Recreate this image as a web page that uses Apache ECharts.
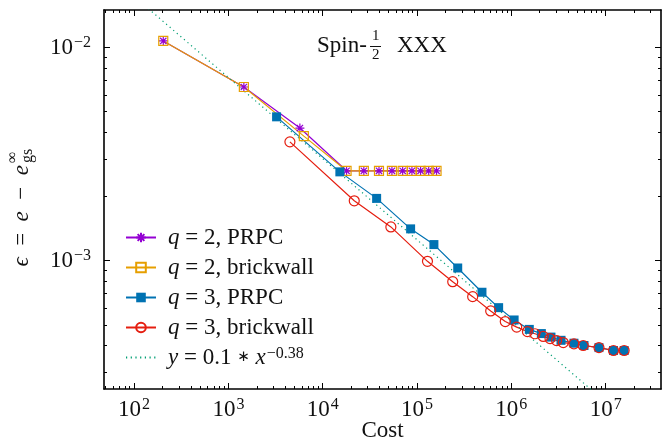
<!DOCTYPE html>
<html>
<head>
<meta charset="utf-8">
<script src="https://cdn.jsdelivr.net/npm/echarts@6/dist/echarts.min.js"></script>
<style>
  html, body { margin: 0; padding: 0; background: #fff; }
  #main { width: 670px; height: 443px; }
</style>
</head>
<body>
<div id="main"></div>
<script>
// data (cost, error)
var q2prpcX = [204, 1459, 5730, 1.79e4, 2.73e4, 3.95e4, 5.42e4, 7.04e4, 8.83e4, 1.09e5, 1.33e5, 1.61e5];
var q2prpcY = [0.01074, 6.53e-3, 4.19e-3, 2.64e-3, 2.64e-3, 2.64e-3, 2.64e-3, 2.64e-3, 2.64e-3, 2.64e-3, 2.64e-3, 2.64e-3];
var q2brickX = [204, 1459, 6310, 1.79e4, 2.73e4, 3.95e4, 5.42e4, 7.04e4, 8.83e4, 1.09e5, 1.33e5, 1.61e5];
var q2brickY = [0.01074, 6.53e-3, 3.84e-3, 2.64e-3, 2.64e-3, 2.64e-3, 2.64e-3, 2.64e-3, 2.64e-3, 2.64e-3, 2.64e-3, 2.64e-3];
var q3prpcX = [3243, 1.52e4, 3.73e4, 8.55e4, 1.51e5, 2.70e5, 4.88e5, 7.33e5, 1.07e6, 1.55e6, 2.08e6, 2.63e6, 3.36e6, 4.61e6, 5.89e6, 8.49e6, 1.21e7, 1.57e7];
var q3prpcY = [4.73e-3, 2.61e-3, 1.96e-3, 1.41e-3, 1.19e-3, 9.24e-4, 7.11e-4, 6.02e-4, 5.27e-4, 4.76e-4, 4.55e-4, 4.38e-4, 4.23e-4, 4.10e-4, 4.00e-4, 3.91e-4, 3.79e-4, 3.79e-4];
var q3brickX = [4490, 2.16e4, 5.28e4, 1.29e5, 2.39e5, 3.89e5, 6.04e5, 8.62e5, 1.14e6, 1.48e6, 1.78e6, 2.18e6, 2.57e6, 3.02e6, 3.55e6, 4.61e6, 5.78e6, 8.49e6, 1.21e7, 1.57e7];
var q3brickY = [3.61e-3, 1.91e-3, 1.44e-3, 9.93e-4, 7.97e-4, 6.78e-4, 5.81e-4, 5.18e-4, 4.88e-4, 4.65e-4, 4.54e-4, 4.41e-4, 4.31e-4, 4.22e-4, 4.13e-4, 4.07e-4, 4.00e-4, 3.91e-4, 3.79e-4, 3.79e-4];
// fit y = 0.1 * x^-0.38, two end points of the straight line
var fitX = [100, 1e7];
var fitY = [0.01738, 0.000217];

var seriesNames = ['{i|q} = 2, PRPC', '{i|q} = 2, brickwall', '{i|q} = 3, PRPC', '{i|q} = 3, brickwall', '{i|y} = 0.1 {a|∗} {i|x}{s|−0.38}'];

// ticks
var xMajor = [1e2, 1e3, 1e4, 1e5, 1e6, 1e7];
var yMajor = [1e-3, 1e-2];
var mant = [2, 3, 4, 5, 6, 7, 8, 9];
var xMin = 48, xMax = 3.86e7, yMin = 2.5e-4, yMax = 0.015;

function minors(decades, lo, hi) {
    var out = [];
    decades.forEach(function (d) {
        mant.forEach(function (m) {
            var v = m * d;
            if (v > lo && v < hi) out.push(v);
        });
    });
    return out;
}
var xMinor = minors([1e1, 1e2, 1e3, 1e4, 1e5, 1e6, 1e7], xMin, xMax);
var yMinor = minors([1e-4, 1e-3, 1e-2], yMin, yMax);

function zip(xs, ys) {
    return xs.map(function (x, i) { return [x, ys[i]]; });
}

var serif = 'Liberation Serif';
var supText = { fontSize: 16, fontFamily: serif, color: '#111', verticalAlign: 'top', padding: [0, 0, 10, 1] };

function powLabel(v) {
    var e = Math.round(Math.log10(v));
    return '10{s|' + String(e).replace('-', '−') + '}';
}

function makeX(pos, major, withLabel) {
    return {
        type: 'log', position: pos, min: xMin, max: xMax,
        name: withLabel ? 'Cost' : '', nameLocation: 'middle', nameGap: 30, nameMoveOverlap: false,
        nameTextStyle: { fontFamily: serif, fontSize: 23, color: '#111', verticalAlign: 'top' },
        axisLine: { show: major, onZero: false, lineStyle: { color: '#000', width: 1.6 } },
        axisTick: { show: true, inside: true, length: major ? 6 : 3, customValues: major ? xMajor : xMinor,
            lineStyle: { color: '#000', width: 1 } },
        axisLabel: withLabel ? {
            show: true, customValues: xMajor, formatter: powLabel, margin: 8,
            fontFamily: serif, fontSize: 23, color: '#111',
            rich: { s: supText }
        } : { show: false },
        splitLine: { show: false },
        minorTick: { show: false }
    };
}
function makeY(pos, major, withLabel) {
    return {
        type: 'log', position: pos, min: yMin, max: yMax,
        axisLine: { show: major, onZero: false, lineStyle: { color: '#000', width: 1.6 } },
        axisTick: { show: true, inside: true, length: major ? 6 : 3, customValues: major ? yMajor : yMinor,
            lineStyle: { color: '#000', width: 1 } },
        axisLabel: withLabel ? {
            show: true, customValues: yMajor, formatter: powLabel, margin: 13,
            fontFamily: serif, fontSize: 23, color: '#111',
            rich: { s: supText }
        } : { show: false },
        splitLine: { show: false },
        minorTick: { show: false }
    };
}

var legendItems = seriesNames.map(function (n, i) {
    if (i === 4) {
        return { name: n, itemStyle: { color: 'rgba(0,0,0,0)', borderColor: 'rgba(0,0,0,0)', borderWidth: 0 } };
    }
    return { name: n };
});

var myChart = echarts.init(document.getElementById('main'));
var option = {
    animation: false,
    backgroundColor: '#fff',
    grid: { left: 104, right: 9, top: 10, bottom: 54, containLabel: false, outerBoundsMode: 'none' },
    xAxis: [
        makeX('bottom', true, true),
        makeX('bottom', false, false),
        makeX('top', true, false),
        makeX('top', false, false)
    ],
    yAxis: [
        makeY('left', true, true),
        makeY('left', false, false),
        makeY('right', true, false),
        makeY('right', false, false)
    ],
    legend: {
        orient: 'vertical', left: 125, top: 226, padding: 0, itemWidth: 30, itemHeight: 12, itemGap: 7,
        data: legendItems,
        textStyle: {
            fontFamily: serif, fontSize: 23, color: '#111', lineHeight: 23, padding: [0, 0, 0, 7],
            rich: {
                i: { fontFamily: serif, fontStyle: 'italic', fontSize: 23, color: '#111' },
                a: { fontFamily: 'DejaVu Sans', fontSize: 15, color: '#111' },
                s: { fontFamily: serif, fontSize: 16, color: '#111', verticalAlign: 'top', padding: [0, 0, 10, 1] }
            }
        }
    },
    graphic: [
        {
            type: 'group', x: 317, y: 32,
            children: [
                { type: 'text', x: 0, y: 2, style: { text: 'Spin-', fontFamily: serif, fontSize: 23, fill: '#111' } },
                { type: 'text', x: 55, y: -3, style: { text: '1', fontFamily: serif, fontSize: 15, fill: '#111' } },
                { type: 'line', shape: { x1: 53, y1: 14.5, x2: 64, y2: 14.5 }, style: { stroke: '#111', lineWidth: 1 } },
                { type: 'text', x: 55, y: 16, style: { text: '2', fontFamily: serif, fontSize: 15, fill: '#111' } },
                { type: 'text', x: 80, y: 2, style: { text: 'XXX', fontFamily: serif, fontSize: 23, fill: '#111' } }
            ]
        },
        {
            type: 'group', x: 22, y: 203, rotation: Math.PI / 2,
            children: [
                { type: 'text', x: 38, y: 0, style: {
                    text: '{i|ϵ}\u2002=\u2002{i|e}\u2002−\u2002{i|e}', align: 'right', verticalAlign: 'middle',
                    fontFamily: serif, fontSize: 23, fill: '#111',
                    rich: { i: { fontFamily: serif, fontStyle: 'italic', fontSize: 23 } }
                } },
                { type: 'text', x: 40, y: 6, style: { text: 'gs', align: 'left', verticalAlign: 'middle', fontFamily: serif, fontSize: 16, fill: '#111' } },
                { type: 'text', x: 40, y: -9, style: { text: '∞', align: 'left', verticalAlign: 'middle', fontFamily: serif, fontSize: 16, fill: '#111' } }
            ]
        }
    ],
    series: [
        {
            name: seriesNames[0], type: 'line', data: zip(q2prpcX, q2prpcY),
            symbol: 'path://M5,0L5,10M0,5L10,5M1.5,1.5L8.5,8.5M8.5,1.5L1.5,8.5', symbolSize: 9,
            lineStyle: { color: '#9400d3', width: 1.2 },
            itemStyle: { color: 'rgba(0,0,0,0)', borderColor: '#9400d3', borderWidth: 1.2 }
        },
        {
            name: seriesNames[1], type: 'line', data: zip(q2brickX, q2brickY),
            symbol: 'rect', symbolSize: 9,
            lineStyle: { color: '#e69f00', width: 1.2 },
            itemStyle: { color: 'rgba(0,0,0,0)', borderColor: '#e69f00', borderWidth: 1.2 }
        },
        {
            name: seriesNames[2], type: 'line', data: zip(q3prpcX, q3prpcY),
            symbol: 'rect', symbolSize: 9,
            lineStyle: { color: '#0072b2', width: 1.2 },
            itemStyle: { color: '#0072b2' }
        },
        {
            name: seriesNames[3], type: 'line', data: zip(q3brickX, q3brickY),
            symbol: 'circle', symbolSize: 10,
            lineStyle: { color: '#e51e10', width: 1.2 },
            itemStyle: { color: 'rgba(0,0,0,0)', borderColor: '#e51e10', borderWidth: 1.2 }
        },
        {
            name: seriesNames[4], type: 'line', data: zip(fitX, fitY),
            symbol: 'none',
            lineStyle: { color: '#009e73', width: 1.2, type: [1.2, 3.5] },
            itemStyle: { color: '#009e73' }
        }
    ]
};
myChart.setOption(option);

window.onresize = function () {
    myChart.resize();
};
</script>
</body>
</html>
